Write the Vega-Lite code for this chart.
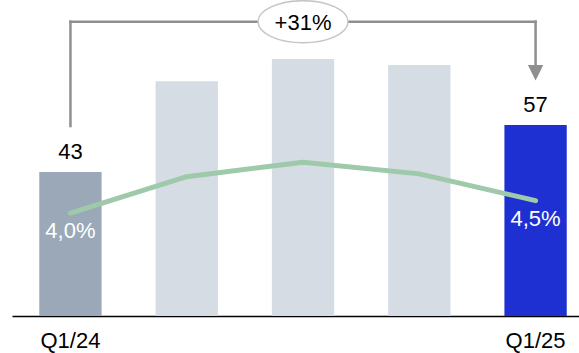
{
  "$schema": "https://vega.github.io/schema/vega-lite/v6.json",
  "width": 567,
  "height": 316,
  "autosize": "none",
  "padding": {"left": 12, "top": 0, "right": 0, "bottom": 37},
  "config": {
    "view": {"stroke": null},
    "font": "Liberation Sans",
    "locale": {"number": {"decimal": ",", "thousands": ".", "grouping": [3], "currency": ["", " €"]}}
  },
  "datasets": {
    "quarters": [
      {"q": "Q1/24", "revenue": 43, "margin": 0.040},
      {"q": "Q2/24", "revenue": 70.1, "margin": 0.0545},
      {"q": "Q3/24", "revenue": 76.7, "margin": 0.0602},
      {"q": "Q4/24", "revenue": 74.9, "margin": 0.0556},
      {"q": "Q1/25", "revenue": 57, "margin": 0.045}
    ],
    "bracketLegs": [
      {"q": "Q1/24", "y1": 56.7, "y2": 87.85},
      {"q": "Q1/25", "y1": 87.85, "y2": 74.9}
    ],
    "bracketTop": [{"from": "Q1/24", "to": "Q1/25", "y": 87.85}],
    "arrowHead": [{"q": "Q1/25", "y": 72.6}],
    "growth": [{"q": "Q3/24", "y": 87.85, "label": "+31%"}]
  },
  "resolve": {"scale": {"y": "independent"}},
  "layer": [
    {
      "data": {"name": "quarters"},
      "mark": {"type": "bar"},
      "encoding": {
        "x": {
          "field": "q", "type": "nominal", "title": null,
          "scale": {"domain": ["Q1/24", "Q2/24", "Q3/24", "Q4/24", "Q1/25"], "paddingInner": 0.464, "paddingOuter": 0.17, "align": 0.69},
          "axis": {
            "title": null, "ticks": false, "labelAngle": 0, "labelFontSize": 22, "labelColor": "#000000",
            "labelPadding": 14, "domainColor": "#000000", "domainWidth": 1.5, "grid": false,
            "labelExpr": "datum.label == 'Q1/24' || datum.label == 'Q1/25' ? datum.label : ''"
          }
        },
        "y": {"field": "revenue", "type": "quantitative", "scale": {"domain": [0, 94.33]}, "axis": null},
        "color": {
          "field": "q", "type": "nominal", "legend": null,
          "scale": {"domain": ["Q1/24", "Q2/24", "Q3/24", "Q4/24", "Q1/25"], "range": ["#9aa8b8", "#d5dce4", "#d5dce4", "#d5dce4", "#1f30d2"]}
        }
      }
    },
    {
      "data": {"name": "quarters"},
      "transform": [{"filter": "datum.q == 'Q1/24' || datum.q == 'Q1/25'"}],
      "mark": {"type": "text", "baseline": "alphabetic", "dy": -13, "fontSize": 22, "color": "#000000"},
      "encoding": {
        "x": {"field": "q", "type": "nominal", "title": null},
        "y": {"field": "revenue", "type": "quantitative", "scale": {"domain": [0, 94.33]}, "axis": null},
        "text": {"field": "revenue", "type": "quantitative", "format": "d"}
      }
    },
    {
      "data": {"name": "quarters"},
      "mark": {"type": "line", "color": "#9ec9aa", "strokeWidth": 5, "strokeCap": "round", "strokeJoin": "round"},
      "encoding": {
        "x": {"field": "q", "type": "nominal", "title": null},
        "y": {"field": "margin", "type": "quantitative", "scale": {"domain": [-0.0008, 0.1246], "zero": false}, "axis": null}
      }
    },
    {
      "data": {"name": "quarters"},
      "transform": [{"filter": "datum.q == 'Q1/24' || datum.q == 'Q1/25'"}],
      "mark": {"type": "text", "baseline": "middle", "dy": 18, "fontSize": 22, "color": "#ffffff"},
      "encoding": {
        "x": {"field": "q", "type": "nominal", "title": null},
        "y": {"field": "margin", "type": "quantitative", "scale": {"domain": [-0.0008, 0.1246], "zero": false}, "axis": null},
        "text": {"field": "margin", "type": "quantitative", "format": ".1%"}
      }
    },
    {
      "data": {"name": "bracketLegs"},
      "mark": {"type": "rule", "color": "#8f8f8f", "strokeWidth": 2.5, "strokeCap": "square"},
      "encoding": {
        "x": {"field": "q", "type": "nominal", "title": null},
        "y": {"field": "y1", "type": "quantitative", "scale": {"domain": [0, 94.33]}, "axis": null},
        "y2": {"field": "y2"}
      }
    },
    {
      "data": {"name": "bracketTop"},
      "mark": {"type": "rule", "color": "#8f8f8f", "strokeWidth": 2.5, "strokeCap": "square"},
      "encoding": {
        "x": {"field": "from", "type": "nominal", "title": null},
        "x2": {"field": "to"},
        "y": {"field": "y", "type": "quantitative", "scale": {"domain": [0, 94.33]}, "axis": null}
      }
    },
    {
      "data": {"name": "arrowHead"},
      "mark": {"type": "point", "shape": "M-1,-1L1,-1L0,1Z", "filled": true, "color": "#8f8f8f", "opacity": 1, "size": 237},
      "encoding": {
        "x": {"field": "q", "type": "nominal", "title": null},
        "y": {"field": "y", "type": "quantitative", "scale": {"domain": [0, 94.33]}, "axis": null}
      }
    },
    {
      "data": {"name": "growth"},
      "mark": {"type": "point", "shape": "M-1,0A1,0.4667,0,1,0,1,0A1,0.4667,0,1,0,-1,0Z", "filled": true, "fill": "#ffffff", "stroke": "#c6c6c6", "strokeWidth": 1.5, "opacity": 1, "size": 8100},
      "encoding": {
        "x": {"field": "q", "type": "nominal", "title": null},
        "y": {"field": "y", "type": "quantitative", "scale": {"domain": [0, 94.33]}, "axis": null}
      }
    },
    {
      "data": {"name": "growth"},
      "mark": {"type": "text", "baseline": "middle", "dy": 1, "fontSize": 22, "color": "#000000"},
      "encoding": {
        "x": {"field": "q", "type": "nominal", "title": null},
        "y": {"field": "y", "type": "quantitative", "scale": {"domain": [0, 94.33]}, "axis": null},
        "text": {"field": "label", "type": "nominal"}
      }
    }
  ]
}
